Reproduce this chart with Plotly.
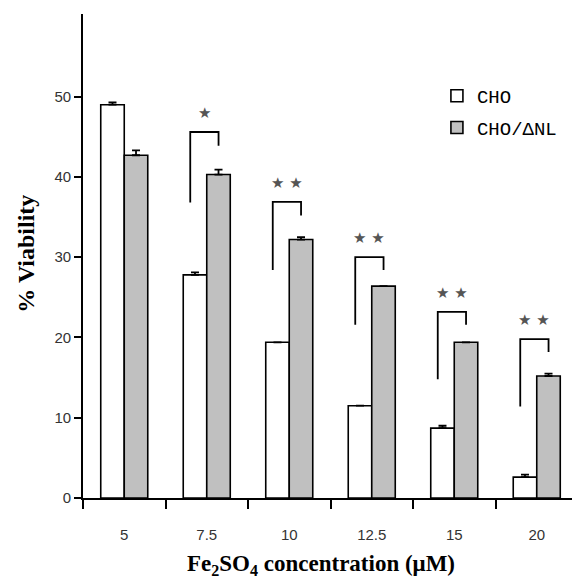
import plotly.graph_objects as go

# ---- data ----
concentrations = ["5", "7.5", "10", "12.5", "15", "20"]
cho = [49.0, 27.8, 19.4, 11.5, 8.7, 2.6]
cho_err = [0.3, 0.3, 0.0, 0.0, 0.3, 0.3]
cho_dnl = [42.7, 40.3, 32.2, 26.4, 19.4, 15.2]
cho_dnl_err = [0.6, 0.6, 0.3, 0.0, 0.0, 0.3]

# significance brackets (groups 7.5 .. 20)
sig_groups = [1, 2, 3, 4, 5]
sig_labels = ["★", "★ ★", "★ ★", "★ ★", "★ ★"]
bracket_top = [45.6, 36.9, 30.0, 23.2, 19.8]
bracket_left_low = [36.8, 28.4, 21.6, 14.8, 11.4]
bracket_right_low = [43.9, 35.2, 28.4, 21.6, 18.2]

fig = go.Figure()
fig.add_trace(go.Bar(
    x=concentrations, y=cho, name="CHO",
    marker=dict(color="white", line=dict(color="black", width=1.6)),
    error_y=dict(type="data", array=cho_err, arrayminus=[0] * 6, symmetric=False,
                 color="black", thickness=1.8, width=4),
    legendgroup="a",
))
fig.add_trace(go.Bar(
    x=concentrations, y=cho_dnl, name="CHO/ΔNL",
    marker=dict(color="#c0c0c0", line=dict(color="black", width=1.6)),
    error_y=dict(type="data", array=cho_dnl_err, arrayminus=[0] * 6, symmetric=False,
                 color="black", thickness=1.8, width=4),
    legendgroup="b",
))

shapes = []
annotations = []
for g, lab, top, ll, rl in zip(sig_groups, sig_labels, bracket_top, bracket_left_low, bracket_right_low):
    xl = g - 0.2
    xr = g + 0.143
    shapes.append(dict(
        type="path", xref="x", yref="y",
        path=f"M {xl},{ll} L {xl},{top} L {xr},{top} L {xr},{rl}",
        line=dict(color="black", width=1.8),
    ))
    annotations.append(dict(
        x=(xl + xr) / 2, y=top + 2.4, xref="x", yref="y", text=lab,
        showarrow=False, font=dict(size=15, color="#555555", family="DejaVu Sans"),
    ))

annotations.append(dict(
    x=0.481, y=-0.138, xref="paper", yref="paper", xanchor="center", yanchor="middle",
    text="<b>Fe<sub>2</sub>SO<sub>4</sub> concentration (μM)</b>", showarrow=False,
    font=dict(family="Liberation Serif", size=23, color="black"),
))
annotations.append(dict(
    x=-0.115, y=0.505, xref="paper", yref="paper", xanchor="center", yanchor="middle",
    text="<b>% Viability</b>", textangle=-90, showarrow=False,
    font=dict(family="Liberation Serif", size=24, color="black"),
))

fig.update_layout(
    width=572, height=575,
    margin=dict(l=75, r=2, t=6, b=85),
    paper_bgcolor="white", plot_bgcolor="white",
    barmode="group", bargap=0.43, bargroupgap=0,
    shapes=shapes, annotations=annotations,
    showlegend=True,
    legend=dict(x=0.715, y=0.870, xanchor="left", yanchor="top",
                bgcolor="rgba(0,0,0,0)", tracegroupgap=4,
                font=dict(family="Liberation Mono", size=19, color="black")),
    xaxis=dict(
        type="category", showline=True, linecolor="black", linewidth=1.8,
        ticks="outside", tickson="boundaries", ticklen=9, tickwidth=1.8, tickcolor="black",
        showgrid=False, zeroline=False, ticklabelstandoff=22,
        tickfont=dict(family="Liberation Sans", size=15, color="#333333"),
    ),
    yaxis=dict(
        range=[0, 60.3], tickvals=[0, 10, 20, 30, 40, 50],
        showline=True, linecolor="black", linewidth=1.8,
        ticks="outside", ticklen=7, tickwidth=1.5, tickcolor="black",
        showgrid=False, zeroline=False,
        tickfont=dict(family="Liberation Sans", size=15, color="#333333"),
    ),
)

fig.write_html("out.html")
